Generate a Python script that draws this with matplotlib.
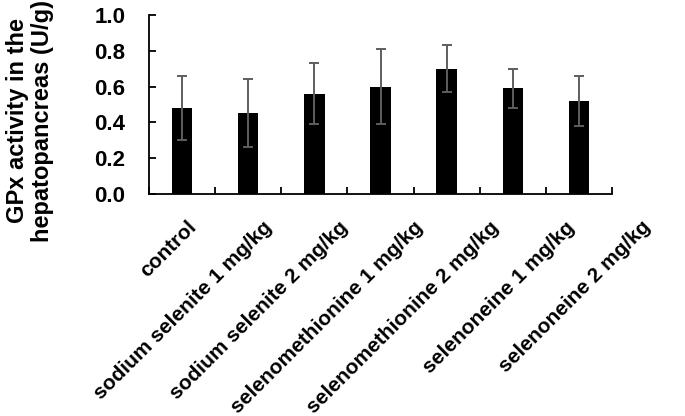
import numpy as np
import matplotlib.pyplot as plt
import matplotlib.transforms as mtransforms

# group names and GPx activity readings (U/g)
groups = ['control', 'sodium selenite 1 mg/kg', 'sodium selenite 2 mg/kg',
          'selenomethionine 1 mg/kg', 'selenomethionine 2 mg/kg',
          'selenoneine 1 mg/kg', 'selenoneine 2 mg/kg']
means = [0.48, 0.45, 0.56, 0.60, 0.70, 0.59, 0.52]
err_low = [0.30, 0.26, 0.39, 0.39, 0.57, 0.48, 0.38]
err_high = [0.66, 0.64, 0.73, 0.81, 0.83, 0.70, 0.66]
yticks = [0.0, 0.2, 0.4, 0.6, 0.8, 1.0]

plt.rcParams['font.family'] = ['Liberation Sans', 'DejaVu Sans']
plt.rcParams['font.weight'] = 'bold'

fig = plt.figure(figsize=(6.85, 4.16), dpi=100)
ax = fig.add_axes([149/685, 1 - 194/416, (612-149)/685, (194-15)/416])

x = np.arange(len(groups))
m = np.array(means)
yerr = [m - np.array(err_low), np.array(err_high) - m]
ax.bar(x, means, width=0.31, color='black', zorder=2)
ax.errorbar(x, means, yerr=yerr, fmt='none', ecolor='#5e5e5e', elinewidth=1.4,
            capsize=3.5, capthick=1.4, zorder=3)

ax.set_xlim(-0.5, len(groups) - 0.5)
ax.set_ylim(0, 1.0)
ax.set_yticks(yticks)
ax.set_yticklabels(['%.1f' % v for v in yticks], fontsize=16, fontweight='bold')
ax.tick_params(axis='y', direction='in', length=5, width=1.3, pad=17)

# category labels: right end of each label, labels fan out a bit wider than the bars
ax.set_xticks(x)
ax.set_xticklabels(groups, rotation=45, ha='right', va='top',
                   fontsize=15, fontweight='bold')
ax.tick_params(axis='x', which='major', length=0, pad=17)
for i, lab in enumerate(ax.get_xticklabels()):
    shift = mtransforms.ScaledTranslation((18 + 9.5 * i) / 100, 0, fig.dpi_scale_trans)
    lab.set_transform(lab.get_transform() + shift)
ax.set_xticks(np.arange(len(groups) + 1) - 0.5, minor=True)
ax.tick_params(axis='x', which='minor', direction='in', length=5, width=1.3)

for s in ['top', 'right']:
    ax.spines[s].set_visible(False)
for s in ['left', 'bottom']:
    ax.spines[s].set_linewidth(1.3)

ax.set_ylabel('GPx activity in the\nhepatopancreas (U/g)', fontsize=17,
              fontweight='bold', linespacing=1.1)
ax.yaxis.set_label_coords(-0.205, 0.41)

fig.savefig('out.png', dpi=100)
